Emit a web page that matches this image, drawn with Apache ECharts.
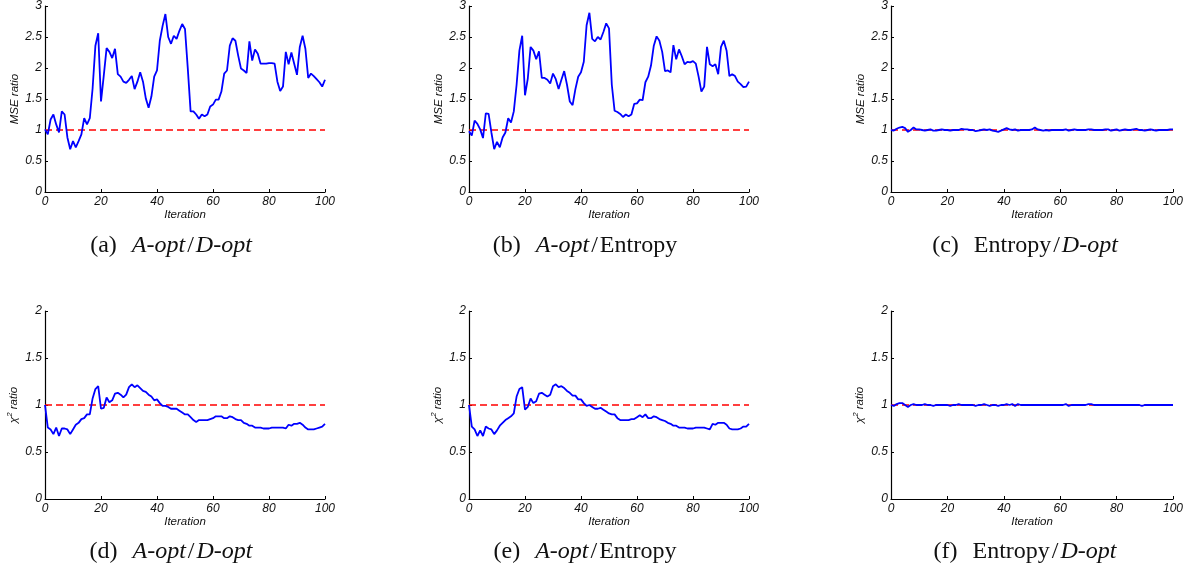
<!DOCTYPE html>
<html>
<head>
<meta charset="utf-8">
<script src="https://cdn.jsdelivr.net/npm/echarts@6/dist/echarts.min.js"></script>
<style>
  html, body { margin: 0; padding: 0; background: #fff; }
  #chart { width: 1196px; height: 576px; }
</style>
</head>
<body>
<div id="chart"></div>
<script>
// Iteration index shared by every panel
var iterations = [];
for (var k = 0; k <= 100; k++) iterations.push(k);

// MSE ratio per iteration
var mseAoptDopt = [1.01,0.93,1.17,1.25,1.09,0.96,1.30,1.25,0.88,0.69,0.82,0.72,0.82,0.93,1.19,1.09,1.19,1.67,2.36,2.56,
  1.46,1.88,2.32,2.26,2.16,2.31,1.90,1.86,1.78,1.76,1.81,1.87,1.66,1.78,1.93,1.78,1.51,1.36,1.54,1.86,
  1.96,2.44,2.68,2.87,2.50,2.39,2.52,2.47,2.60,2.71,2.63,1.99,1.30,1.30,1.25,1.18,1.25,1.22,1.25,1.38,
  1.41,1.49,1.49,1.62,1.91,1.96,2.36,2.48,2.44,2.20,1.99,1.96,1.92,2.43,2.12,2.30,2.23,2.07,2.07,2.07,
  2.08,2.08,2.07,1.78,1.63,1.70,2.26,2.06,2.25,2.07,1.89,2.34,2.52,2.31,1.84,1.91,1.87,1.82,1.77,1.70,1.81];

var mseAoptEntropy = [0.98,0.91,1.15,1.10,1.01,0.87,1.27,1.26,0.96,0.69,0.81,0.72,0.88,0.96,1.19,1.12,1.30,1.73,2.28,2.52,
  1.56,1.83,2.34,2.28,2.14,2.27,1.84,1.84,1.81,1.75,1.91,1.82,1.66,1.81,1.95,1.73,1.46,1.40,1.66,1.86,
  1.93,2.10,2.69,2.89,2.47,2.43,2.50,2.46,2.58,2.72,2.64,1.73,1.31,1.29,1.26,1.21,1.25,1.22,1.25,1.42,
  1.43,1.49,1.48,1.77,1.86,2.04,2.36,2.51,2.44,2.26,1.95,1.96,1.93,2.37,2.14,2.30,2.19,2.06,2.10,2.09,
  2.11,2.07,1.86,1.62,1.70,2.34,2.06,2.03,2.06,1.90,2.34,2.44,2.28,1.87,1.90,1.87,1.78,1.74,1.69,1.70,1.78];

var mseEntropyDopt = [1.00,0.99,1.02,1.04,1.05,1.03,0.97,1.00,1.04,1.01,1.01,1.00,0.99,1.00,1.01,0.99,0.99,1.00,1.01,1.00,
  1.00,0.99,1.00,1.00,1.00,1.02,1.01,1.01,1.00,1.00,0.98,0.99,1.00,1.01,1.00,1.01,0.99,0.98,0.97,0.99,
  1.01,1.03,1.01,1.00,1.01,0.99,1.00,1.00,1.00,1.00,1.01,1.04,1.01,1.00,0.99,1.00,0.99,1.00,1.00,1.00,
  1.00,1.00,1.01,0.99,1.00,1.01,1.00,1.00,1.00,1.00,1.01,1.01,1.00,1.00,1.00,1.00,1.01,1.01,0.99,1.00,
  1.01,0.99,1.00,1.01,1.00,1.00,1.01,1.02,1.00,1.00,0.99,1.00,1.01,1.00,0.99,1.00,1.00,1.00,1.00,1.01,1.01];

// chi-squared ratio per iteration
var chiAoptDopt = [1.00,0.76,0.74,0.69,0.76,0.67,0.75,0.75,0.74,0.69,0.74,0.79,0.81,0.85,0.86,0.90,0.90,1.07,1.17,1.20,
  0.96,0.97,1.08,1.03,1.05,1.12,1.13,1.11,1.08,1.11,1.19,1.22,1.19,1.21,1.18,1.15,1.14,1.11,1.09,1.05,
  1.06,1.02,0.99,0.99,0.98,0.96,0.96,0.96,0.94,0.92,0.90,0.90,0.87,0.84,0.82,0.84,0.84,0.84,0.84,0.85,
  0.86,0.88,0.88,0.88,0.86,0.86,0.88,0.87,0.85,0.84,0.84,0.81,0.80,0.78,0.78,0.76,0.76,0.76,0.75,0.75,
  0.75,0.76,0.76,0.76,0.76,0.76,0.75,0.79,0.78,0.80,0.80,0.81,0.79,0.76,0.74,0.74,0.74,0.75,0.76,0.77,0.80];

var chiAoptEntropy = [1.00,0.77,0.74,0.67,0.73,0.67,0.77,0.75,0.74,0.69,0.73,0.78,0.81,0.84,0.86,0.88,0.91,1.09,1.17,1.19,
  0.95,0.98,1.07,1.02,1.04,1.12,1.13,1.11,1.09,1.11,1.20,1.22,1.19,1.20,1.18,1.15,1.13,1.10,1.10,1.06,
  1.06,1.02,0.99,1.00,0.98,0.96,0.96,0.97,0.95,0.93,0.91,0.90,0.90,0.86,0.84,0.84,0.84,0.84,0.85,0.85,
  0.87,0.89,0.87,0.90,0.86,0.86,0.88,0.87,0.85,0.84,0.83,0.81,0.80,0.78,0.78,0.76,0.76,0.76,0.75,0.75,
  0.75,0.76,0.76,0.76,0.76,0.75,0.74,0.80,0.79,0.81,0.81,0.81,0.79,0.75,0.74,0.74,0.74,0.75,0.77,0.77,0.80];

var chiEntropyDopt = [1.00,0.99,1.01,1.02,1.02,1.00,0.98,1.00,1.01,1.00,1.00,1.00,1.01,1.00,1.00,0.99,1.00,1.00,1.00,1.00,
  1.00,0.99,1.00,1.00,1.01,1.00,1.00,1.00,1.00,1.00,0.99,1.00,1.00,1.01,1.00,0.99,1.00,1.00,0.99,1.00,
  1.00,1.01,1.00,1.01,0.99,1.01,1.00,1.00,1.00,1.00,1.00,1.00,1.00,1.00,1.00,1.00,1.00,1.00,1.00,1.00,
  1.00,1.00,1.01,0.99,1.00,1.00,1.00,1.00,1.00,1.00,1.01,1.01,1.00,1.00,1.00,1.00,1.00,1.00,1.00,1.00,
  1.00,1.00,1.00,1.00,1.00,1.00,1.00,1.00,1.00,0.99,1.00,1.00,1.00,1.00,1.00,1.00,1.00,1.00,1.00,1.00,1.00];

// Reference level (equal performance)
var referenceLevel = 1;

// Tick values
var xTicks = [0, 20, 40, 60, 80, 100];
var mseTicks = [0, 0.5, 1, 1.5, 2, 2.5, 3];
var chiTicks = [0, 0.5, 1, 1.5, 2];

// Sub-figure captions: [label, first method, first italic?, second method, second italic?]
var captions = [
  ['(a)', 'A-opt', true, 'D-opt', true],
  ['(b)', 'A-opt', true, 'Entropy', false],
  ['(c)', 'Entropy', false, 'D-opt', true],
  ['(d)', 'A-opt', true, 'D-opt', true],
  ['(e)', 'A-opt', true, 'Entropy', false],
  ['(f)', 'Entropy', false, 'D-opt', true]
];

var panels = [
  { values: mseAoptDopt,     ticks: mseTicks, kind: 'mse' },
  { values: mseAoptEntropy,  ticks: mseTicks, kind: 'mse' },
  { values: mseEntropyDopt,  ticks: mseTicks, kind: 'mse' },
  { values: chiAoptDopt,     ticks: chiTicks, kind: 'chi' },
  { values: chiAoptEntropy,  ticks: chiTicks, kind: 'chi' },
  { values: chiEntropyDopt,  ticks: chiTicks, kind: 'chi' }
];

// Plot areas in pixels
var gridBoxes = [
  { left: 45,  top: 3,   width: 280, height: 189 },
  { left: 469, top: 3,   width: 280, height: 189 },
  { left: 891, top: 3,   width: 282, height: 189 },
  { left: 45,  top: 311, width: 280, height: 188 },
  { left: 469, top: 311, width: 280, height: 188 },
  { left: 891, top: 311, width: 282, height: 188 }
];
var captionCenters = [[171, 246], [585, 246], [1025, 246], [171, 552], [585, 552], [1025, 552]];

var tickFont = { fontFamily: 'Liberation Sans', fontStyle: 'italic', fontSize: 12, color: '#111' };
var nameFont = { fontFamily: 'Liberation Sans', fontStyle: 'italic', fontSize: 11.5, color: '#111' };

var grids = [], xAxes = [], yAxes = [], series = [], graphics = [];

panels.forEach(function (p, i) {
  grids.push(Object.assign({ containLabel: false }, gridBoxes[i]));
  var tickStep = p.ticks[1] - p.ticks[0];
  xAxes.push({
    gridIndex: i, type: 'value',
    min: xTicks[0], max: xTicks[xTicks.length - 1], interval: xTicks[1] - xTicks[0],
    name: 'Iteration', nameLocation: 'middle', nameGap: 17,
    nameTextStyle: nameFont,
    axisLine: { show: true, onZero: false, lineStyle: { color: '#000', width: 1.2 } },
    axisTick: { show: true, inside: true, length: 3, lineStyle: { color: '#000' } },
    axisLabel: Object.assign({ margin: 4 }, tickFont),
    splitLine: { show: false }
  });
  var yName = p.kind === 'mse' ? 'MSE ratio' : '{t|χ}{s|2}{t| ratio}';
  yAxes.push({
    gridIndex: i, type: 'value',
    min: p.ticks[0], max: p.ticks[p.ticks.length - 1], interval: tickStep,
    name: yName, nameLocation: 'middle', nameRotate: 90, nameGap: 24,
    nameTextStyle: Object.assign({
      rich: {
        t: nameFont,
        s: { fontFamily: 'Liberation Sans', fontStyle: 'italic', fontSize: 8, color: '#111', padding: [0, 0, 7, 0] }
      }
    }, nameFont),
    axisLine: { show: true, onZero: false, lineStyle: { color: '#000', width: 1.2 } },
    axisTick: { show: true, inside: true, length: 3, lineStyle: { color: '#000' } },
    axisLabel: Object.assign({ margin: 3 }, tickFont),
    splitLine: { show: false }
  });
  series.push({
    type: 'line', xAxisIndex: i, yAxisIndex: i,
    data: [[xTicks[0], referenceLevel], [xTicks[xTicks.length - 1], referenceLevel]],
    showSymbol: false, silent: true, z: 2,
    lineStyle: { color: '#ff0000', width: 1.4, type: [7, 4] }
  });
  series.push({
    type: 'line', xAxisIndex: i, yAxisIndex: i,
    data: iterations.map(function (it, j) { return [it, p.values[j]]; }),
    showSymbol: false, silent: true, z: 3,
    lineStyle: { color: '#0000ff', width: 1.8 }
  });

  var c = captions[i];
  var capText = '{lab|' + c[0] + '}' + '{' + (c[2] ? 'i' : 'n') + '|' + c[1] + '}' + '{sl|/}' +
                '{' + (c[4] ? 'i' : 'n') + '|' + c[3] + '}';
  graphics.push({
    type: 'text', x: captionCenters[i][0], y: captionCenters[i][1],
    style: {
      text: capText, align: 'center', verticalAlign: 'middle',
      rich: {
        lab: { fontFamily: 'Liberation Serif', fontSize: 24, fill: '#111', padding: [0, 15, 0, 0] },
        n: { fontFamily: 'Liberation Serif', fontSize: 24, fill: '#111' },
        sl: { fontFamily: 'Liberation Serif', fontSize: 24, fill: '#111', padding: [0, 2, 0, 2] },
        i: { fontFamily: 'Liberation Serif', fontStyle: 'italic', fontSize: 24, fill: '#111' }
      }
    }
  });
});

var chart = echarts.init(document.getElementById('chart'), null, { renderer: 'canvas' });
chart.setOption({
  animation: false,
  backgroundColor: '#ffffff',
  grid: grids,
  xAxis: xAxes,
  yAxis: yAxes,
  series: series,
  graphic: graphics
});
</script>
</body>
</html>
